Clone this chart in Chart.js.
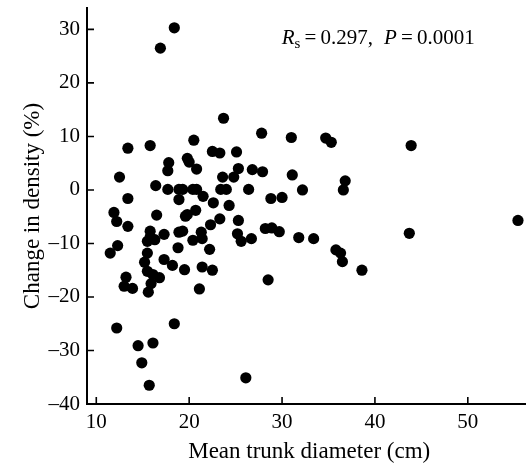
<!DOCTYPE html>
<html>
<head>
<meta charset="utf-8">
<script src="https://cdn.jsdelivr.net/npm/chart.js@4.4.1/dist/chart.umd.min.js"></script>
<style>
  html, body { margin: 0; padding: 0; background: #fff; }
  #wrap { width: 531px; height: 463px; }
</style>
</head>
<body>
<div id="wrap"><canvas id="myChart" width="531" height="463"></canvas></div>
<script>
// mean trunk diameter (cm)
const diameter = [
  18.4, 16.9, 13.4, 15.8, 20.5, 23.7, 17.8, 17.7, 19.8, 20.0,
  20.8, 22.5, 23.3, 25.1, 12.5, 16.4, 17.7, 18.9, 19.3, 20.4,
  20.8, 21.5, 23.6, 24.8, 25.3, 23.4, 24.0, 13.4, 18.9, 22.6,
  24.3, 27.8, 31.0, 34.7, 35.3, 26.8, 27.9, 31.1, 26.4, 28.8,
  30.0, 32.2, 36.8, 36.6, 25.3, 23.3, 25.2, 25.6, 26.7, 28.2,
  28.9, 29.7, 31.8, 33.4, 35.8, 36.3, 36.5, 38.6, 28.5, 26.1,
  43.9, 43.7, 55.4, 11.9, 12.2, 13.4, 16.5, 19.8, 20.7, 19.6,
  22.3, 15.8, 17.3, 18.9, 19.3, 21.3, 20.4, 21.4, 15.5, 16.3,
  15.8, 12.3, 11.5, 18.8, 22.2, 15.5, 15.2, 17.3, 18.2, 19.5,
  21.4, 22.5, 15.5, 16.1, 16.8, 13.2, 13.0, 13.9, 15.9, 15.6,
  21.1, 12.2, 18.4, 16.1, 14.5, 14.9, 15.7
];
// change in density (%)
const densityChange = [
  30.3, 26.5, 7.8, 8.3, 9.3, 13.4, 5.1, 3.6, 5.9, 5.2,
  3.9, 7.2, 6.9, 7.1, 2.4, 0.8, 0.1, 0.1, 0.1, 0.1,
  0.1, -1.2, 2.4, 2.4, 4.0, 0.1, 0.1, -1.6, -1.8, -2.4,
  -2.9, 10.6, 9.8, 9.7, 8.9, 3.8, 3.4, 2.8, 0.1, -1.6,
  -1.4, 0.0, 1.7, 0.0, -5.7, -5.4, -8.2, -9.6, -9.1, -7.2,
  -7.1, -7.8, -8.9, -9.1, -11.2, -11.8, -13.4, -15.0, -16.8, -35.1,
  8.3, -8.1, -5.7, -4.2, -5.9, -6.8, -4.7, -4.6, -3.8, -4.9,
  -6.5, -7.7, -8.3, -7.9, -7.7, -7.9, -9.4, -9.1, -9.6, -9.3,
  -8.8, -10.4, -11.8, -10.8, -11.1, -11.8, -13.5, -13.0, -14.1, -14.9,
  -14.4, -15.0, -15.2, -15.8, -16.4, -16.3, -18.0, -18.4, -17.5, -19.1,
  -18.5, -25.8, -25.0, -28.6, -29.1, -32.3, -36.5
];

const xTicks = [10, 20, 30, 40, 50];
const yTicks = [-40, -30, -20, -10, 0, 10, 20, 30];

const xTitle = 'Mean trunk diameter (cm)';
const yTitle = 'Change in density (%)';

const FONT = '"Liberation Serif", "Times New Roman", serif';

const points = diameter.map((d, i) => ({ x: d, y: densityChange[i] }));

// ticks point into the plot, so draw them by hand
const innerTicks = {
    id: 'innerTicks',
    afterDraw(chart) {
        const { ctx, chartArea, scales } = chart;
        ctx.save();
        ctx.strokeStyle = '#000';
        ctx.lineWidth = 1.6;
        ctx.beginPath();
        scales.x.ticks.forEach(t => {
            const px = scales.x.getPixelForValue(t.value);
            ctx.moveTo(px, chartArea.bottom);
            ctx.lineTo(px, chartArea.bottom - 7);
        });
        scales.y.ticks.forEach(t => {
            const py = scales.y.getPixelForValue(t.value);
            ctx.moveTo(chartArea.left, py);
            ctx.lineTo(chartArea.left + 7, py);
        });
        ctx.stroke();
        ctx.restore();
    }
};

// axis titles and the Rs / P note
const textBits = {
    id: 'textBits',
    afterDraw(chart) {
        const { ctx, chartArea } = chart;
        ctx.save();
        ctx.fillStyle = '#000';
        ctx.textBaseline = 'alphabetic';

        ctx.font = '23px ' + FONT;
        ctx.textAlign = 'center';
        ctx.fillText(xTitle, (chartArea.left + chartArea.right) / 2 + 3, 458);

        ctx.save();
        ctx.translate(39, (chartArea.top + chartArea.bottom) / 2);
        ctx.rotate(-Math.PI / 2);
        ctx.fillText(yTitle, 0, 0);
        ctx.restore();

        ctx.textAlign = 'left';
        const runs = [
            [281.7, [['R', 'italic 21px', 0], ['s', '15px', 4], ['\u2009=\u20090.297,', '21px', 0]]],
            [384, [['P', 'italic 21px', 0], ['\u2009=\u20090.0001', '21px', 0]]]
        ];
        runs.forEach(([x0, parts]) => {
            let x = x0;
            parts.forEach(([t, f, dy]) => {
                ctx.font = f + ' ' + FONT;
                ctx.fillText(t, x, 44 + dy);
                x += ctx.measureText(t).width;
            });
        });
        ctx.restore();
    }
};

const ctx = document.getElementById('myChart').getContext('2d');

new Chart(ctx, {
    type: 'scatter',
    data: {
        datasets: [
            {
                data: points,
                backgroundColor: '#000',
                borderWidth: 0,
                pointRadius: 5.6,
                pointHoverRadius: 5.6
            }
        ]
    },
    options: {
        responsive: false,
        animation: false,
        events: [],
        layout: {
            padding: { top: 8, right: 3, left: 0, bottom: 0 }
        },
        plugins: {
            legend: { display: false },
            tooltip: { enabled: false }
        },
        scales: {
            x: {
                type: 'linear',
                min: 9,
                max: 56.2,
                afterBuildTicks: s => { s.ticks = xTicks.map(v => ({ value: v })); },
                afterFit: s => { s.height = 59; s.paddingLeft = 0; s.paddingRight = 0; },
                grid: { display: false, drawTicks: false },
                border: { display: true, color: '#000', width: 2 },
                ticks: {
                    color: '#000',
                    padding: 6,
                    maxRotation: 0,
                    font: { family: FONT, size: 21 }
                }
            },
            y: {
                type: 'linear',
                min: -40,
                max: 34,
                afterBuildTicks: s => { s.ticks = yTicks.map(v => ({ value: v })); },
                afterFit: s => { s.width = 87; s.paddingTop = 0; s.paddingBottom = 0; },
                grid: { display: false, drawTicks: false },
                border: { display: true, color: '#000', width: 2 },
                ticks: {
                    color: '#000',
                    padding: 7,
                    font: { family: FONT, size: 21 },
                    callback: v => (v < 0 ? '\u2013' + Math.abs(v) : String(v))
                }
            }
        }
    },
    plugins: [innerTicks, textBits]
});
</script>
</body>
</html>
